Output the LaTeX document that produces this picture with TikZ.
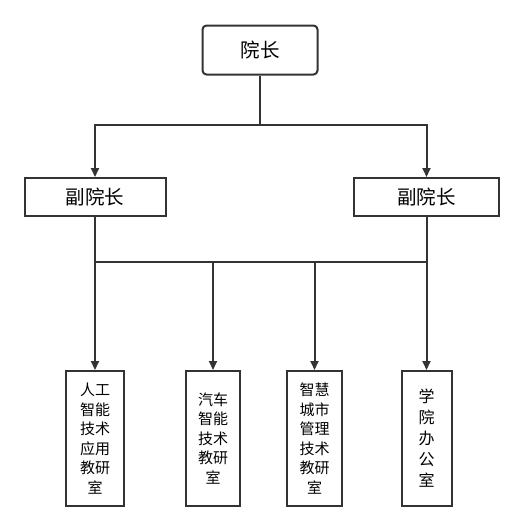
\documentclass[tikz,border=0pt]{standalone}
\usepackage{fontspec}
\newfontfamily\cjk{Noto Sans CJK SC}
\usetikzlibrary{arrows.meta}

\begin{document}
\begin{tikzpicture}[x=1pt,y=-1pt,>={Triangle[length=9pt,width=8pt]},line width=2pt,
  draw=black!80,font=\cjk,
  headbox/.style={draw=black!80,line width=2pt,inner sep=0pt,fill=white,
    font=\cjk\fontsize{19.5}{23}\selectfont},
  roombox/.style={draw=black!80,line width=2pt,inner sep=0pt,align=center,minimum height=135pt,
    font=\cjk\fontsize{15}{19.5}\selectfont},
  link/.style={black!80,line width=2pt}]
\useasboundingbox (0,0) rectangle (524,531);
\node[headbox,rounded corners=4pt,minimum width=115pt,minimum height=49pt] (dean) at (260,50) {院长};
\node[headbox,minimum width=141pt,minimum height=38pt] (vpl) at (95,197) {副院长};
\node[headbox,minimum width=145pt,minimum height=38pt] (vpr) at (426.5,197) {副院长};
\node[roombox,minimum width=58pt] (ai) at (95,438.5) {人工\\智能\\技术\\应用\\教研\\室};
\node[roombox,minimum width=54pt] (car) at (213,438.5) {汽车\\智能\\技术\\教研\\室};
\node[roombox,minimum width=55pt] (city) at (314.5,438.5) {智慧\\城市\\管理\\技术\\教研\\室};
\node[roombox,minimum width=50pt,font=\cjk\fontsize{16}{21}\selectfont] (office) at (426.5,438.5) {学\\院\\办\\公\\室};
\coordinate (top) at (260,125);
\coordinate (busl) at (95,262);
\coordinate (busr) at (426.5,262);
\draw[link] (dean) -- (top);
\draw[link,->] (top) -| (vpl);
\draw[link,->] (top) -| (vpr);
\draw[link] (vpl) -- (busl) -- (busr) -- (vpr);
\draw[link,->] (busl) -- (ai);
\draw[link,->] (car |- busl) -- (car);
\draw[link,->] (city |- busl) -- (city);
\draw[link,->] (busr) -- (office);
\end{tikzpicture}
\end{document}
